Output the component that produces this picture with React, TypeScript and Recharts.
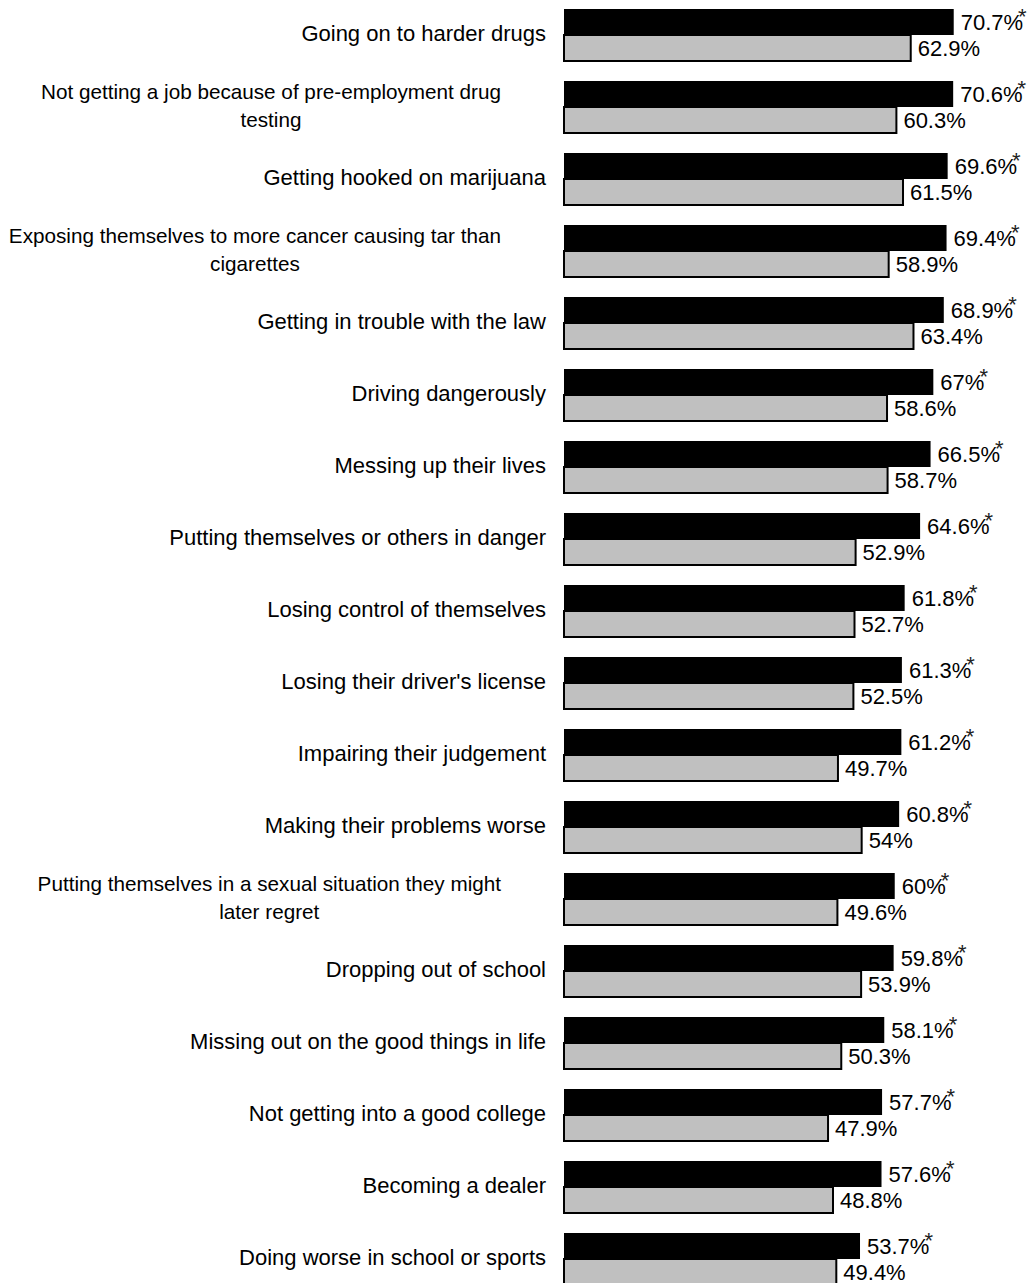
import { BarChart, Bar, XAxis, YAxis, LabelList } from "recharts";

const categories = [
  "Going on to harder drugs",
  "Not getting a job because of pre-employment drug\ntesting",
  "Getting hooked on marijuana",
  "Exposing themselves to more cancer causing tar than\ncigarettes",
  "Getting in trouble with the law",
  "Driving dangerously",
  "Messing up their lives",
  "Putting themselves or others in danger",
  "Losing control of themselves",
  "Losing their driver's license",
  "Impairing their judgement",
  "Making their problems worse",
  "Putting themselves in a sexual situation they might\nlater regret",
  "Dropping out of school",
  "Missing out on the good things in life",
  "Not getting into a good college",
  "Becoming a dealer",
  "Doing worse in school or sports",
];

const seriesA = [70.7, 70.6, 69.6, 69.4, 68.9, 67, 66.5, 64.6, 61.8, 61.3, 61.2, 60.8, 60, 59.8, 58.1, 57.7, 57.6, 53.7];
const seriesB = [62.9, 60.3, 61.5, 58.9, 63.4, 58.6, 58.7, 52.9, 52.7, 52.5, 49.7, 54, 49.6, 53.9, 50.3, 47.9, 48.8, 49.4];

const data = categories.map((name, i) => ({ name, a: seriesA[i], b: seriesB[i] }));

const FONT = "'Liberation Sans', Arial, sans-serif";
const FS = 22; // single-line labels + values
const FS_WRAP = 20.7; // wrapped labels come out a bit narrower in the original

let ctx: CanvasRenderingContext2D | null = null;
const measure = (s: string) => {
  if (!ctx) ctx = document.createElement("canvas").getContext("2d");
  if (!ctx) return s.length * FS_WRAP * 0.5;
  ctx.font = `${FS_WRAP}px ${FONT}`;
  return ctx.measureText(s).width;
};

const CategoryTick = (props: any) => {
  const { y, payload } = props;
  const lines: string[] = String(payload.value).split("\n");
  if (lines.length === 1) {
    return (
      <text x={546} y={y + 6} textAnchor="end" fontSize={FS} fontFamily={FONT} fill="#000">
        {lines[0]}
      </text>
    );
  }
  const maxW = Math.max(...lines.map(measure));
  const cx = 501 - maxW / 2;
  const lh = 28;
  const y0 = y - ((lines.length - 1) * lh) / 2 + 6;
  return (
    <text textAnchor="middle" fontSize={FS_WRAP} fontFamily={FONT} fill="#000">
      {lines.map((l, i) => (
        <tspan key={i} x={cx} y={y0 + i * lh}>
          {l}
        </tspan>
      ))}
    </text>
  );
};

const valueLabel = (star: boolean) => (props: any) => {
  const { x, y, width, height, value } = props;
  return (
    <text x={x + width + 7} y={y + height / 2 + 7.5} fontSize={FS} fontFamily={FONT} fill="#000">
      {`${value}%`}
      {star && (
        <tspan dx={-5} dy={-6} fontSize={22} fill="#222">
          *
        </tspan>
      )}
    </text>
  );
};

export default function App() {
  return (
    <div style={{ position: "absolute", left: 0, top: 0, width: 1032, height: 1283, overflow: "hidden", background: "#fff" }}>
      <div style={{ marginTop: -1 }}>
        <BarChart
          width={1032}
          height={1296}
          data={data}
          layout="vertical"
          margin={{ top: 0, right: 0, bottom: 0, left: 0 }}
          barGap={0}
          style={{ overflow: "visible" }}
        >
          <XAxis type="number" domain={[0, 84.9]} hide />
          <YAxis
            type="category"
            dataKey="name"
            width={564}
            axisLine={false}
            tickLine={false}
            interval={0}
            tick={<CategoryTick />}
          />
          <Bar dataKey="a" name="Series A" fill="#000" barSize={26} isAnimationActive={false}>
            <LabelList dataKey="a" content={valueLabel(true)} />
          </Bar>
          <Bar dataKey="b" name="Series B" fill="#c0c0c0" stroke="#000" strokeWidth={2} barSize={26} isAnimationActive={false}>
            <LabelList dataKey="b" content={valueLabel(false)} />
          </Bar>
        </BarChart>
      </div>
    </div>
  );
}
